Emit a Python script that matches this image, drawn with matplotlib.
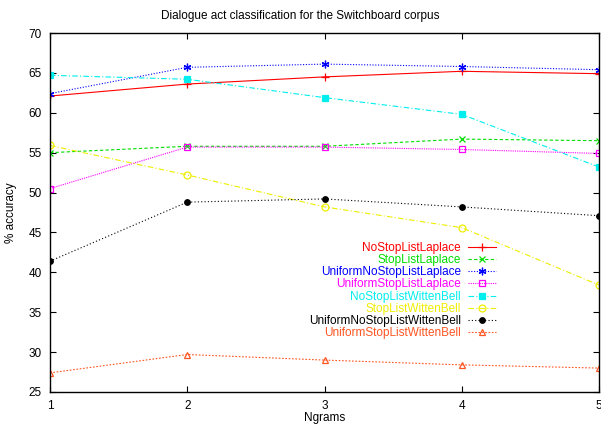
import matplotlib
matplotlib.use("Agg")
import matplotlib.pyplot as plt

plt.rcParams['font.family'] = ['Liberation Sans', 'DejaVu Sans']

ngrams = [1, 2, 3, 4, 5]
series_names = ["NoStopListLaplace", "StopListLaplace", "UniformNoStopListLaplace",
                "UniformStopListLaplace", "NoStopListWittenBell", "StopListWittenBell",
                "UniformNoStopListWittenBell", "UniformStopListWittenBell"]
no_stop_laplace = [62.1, 63.6, 64.5, 65.2, 64.9]
stop_laplace = [55.0, 55.8, 55.8, 56.7, 56.5]
uniform_no_stop_laplace = [62.4, 65.7, 66.1, 65.8, 65.4]
uniform_stop_laplace = [50.5, 55.7, 55.7, 55.4, 54.9]
no_stop_wb = [64.7, 64.2, 61.9, 59.8, 53.2]
stop_wb = [55.9, 52.2, 48.2, 45.6, 38.4]
uniform_no_stop_wb = [41.4, 48.8, 49.2, 48.2, 47.1]
uniform_stop_wb = [27.4, 29.7, 29.0, 28.4, 28.0]
all_values = [no_stop_laplace, stop_laplace, uniform_no_stop_laplace, uniform_stop_laplace,
              no_stop_wb, stop_wb, uniform_no_stop_wb, uniform_stop_wb]

colors = ['#ff0000', '#00dd00', '#0000ff', '#ff00ff', '#00eeee', '#eeee00', '#000000', '#ff5522']
styles = ['-', (0, (3, 2)), (0, (1, 1.5)), (0, (1, 1)), (0, (5, 2, 1, 2)), (0, (5, 2, 1, 2)), (0, (1, 2)), (0, (1.5, 1.5))]
markers = ['+', 'x', (6, 2, 0), 's', 's', 'o', 'o', '^']
mfill = [True, True, True, False, True, False, True, False]
msizes = [6, 4.5, 5.5, 5, 5, 5, 4, 4.5]

fig = plt.figure(figsize=(6.01, 4.25), dpi=100)
ax = fig.add_axes([50/601, 33/425, 549/601, 359/425])

for name, vals, c, ls, m, f, ms in zip(series_names, all_values, colors, styles, markers, mfill, msizes):
    ax.plot(ngrams, vals, color=c, linestyle=ls, linewidth=0.8, marker=m, markersize=ms,
            markerfacecolor=(c if f else 'none'), markeredgecolor=c, markeredgewidth=0.9,
            label=name)

ax.set_xlim(1, 5)
ax.set_ylim(25, 70)
ax.set_xticks(ngrams)
ax.set_yticks(range(25, 71, 5))
ax.tick_params(direction='in', top=True, right=True, labelsize=8.5, length=4, pad=6)
for s in ax.spines.values():
    s.set_linewidth(1.0)
ax.set_xlabel("Ngrams", fontsize=8.5, labelpad=0)
ax.set_ylabel("% accuracy", fontsize=8.5, labelpad=8)
ax.set_title("Dialogue act classification for the Switchboard corpus", fontsize=8.5, pad=10,
             x=(300 - 50) / 549)

leg = ax.legend(loc='lower right', bbox_to_anchor=(0.824, 0.13), frameon=False, markerfirst=False,
                fontsize=8.5, handlelength=2.4, labelspacing=0.02, borderpad=0, handletextpad=0.6,
                labelcolor='linecolor')

fig.savefig("out.png", dpi=100)
